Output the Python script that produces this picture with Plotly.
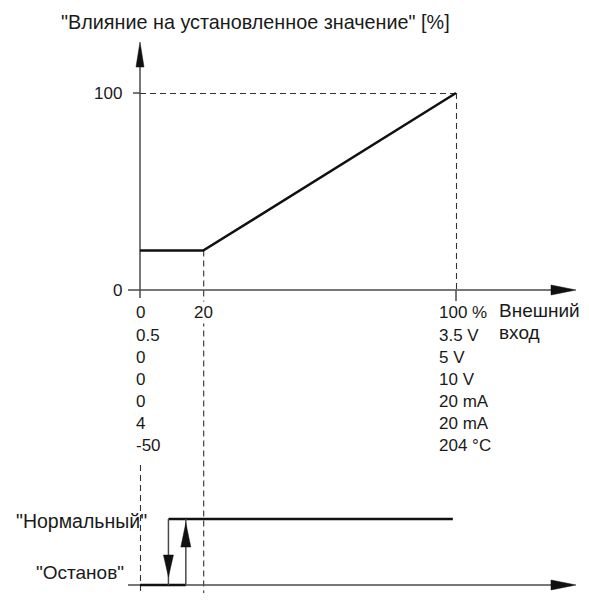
import plotly.graph_objects as go

# ---------------- data ----------------
influence_x = [0, 20, 100]          # external input [%]
influence_y = [20, 20, 100]         # influence on set value [%]

stop_level_x = [0, 14.5]            # "Останов" segment (state 0)
normal_level_x = [9, 99]            # "Нормальный" segment (state 1)
switch_down_x = 9                   # transition normal -> stop
switch_up_x = 14.5                  # transition stop -> normal

x_ticks = [0, 20, 100]
y_ticks = [0, 100]
col_zero_labels = ["0", "0.5", "0", "0", "0", "4", "-50"]
col_full_labels = ["100 %", "3.5 V", "5 V", "10 V", "20 mA", "20 mA", "204 °C"]
axis_title_x = ["Внешний", "вход"]
title_y = "\"Влияние на установленное значение\" [%]"
state_labels = ["\"Нормальный\"", "\"Останов\""]

# ---------------- geometry ----------------
W, H = 589, 600
X0_PX, X_SCALE = 140, 3.16
Y0_PX, Y_SCALE = 290, 1.97
S0_PX, S_SCALE = 585, 66

def px(x):
    return X0_PX + X_SCALE * x

def py(y):
    return Y0_PX - Y_SCALE * y

def ps(s):
    return S0_PX - S_SCALE * s

def fx(p):
    return p / W

def fy(p):
    return 1 - p / H

AX = "#4a4a4a"
DASH = "#333333"
INK = "#111111"
TXT = "#1a1a1a"
FAM = "Liberation Sans, Arial, sans-serif"

def font(size):
    return dict(family=FAM, size=size, color=TXT)

fig = go.Figure()

# main characteristic
fig.add_trace(go.Scatter(x=influence_x, y=influence_y, mode="lines",
                         line=dict(color=INK, width=2.5), yaxis="y",
                         hoverinfo="skip", showlegend=False))
# state lines
fig.add_trace(go.Scatter(x=stop_level_x, y=[0, 0], mode="lines",
                         line=dict(color=INK, width=2.5), yaxis="y2",
                         hoverinfo="skip", showlegend=False))
fig.add_trace(go.Scatter(x=normal_level_x, y=[1, 1], mode="lines",
                         line=dict(color=INK, width=2.5), yaxis="y2",
                         hoverinfo="skip", showlegend=False))
fig.add_trace(go.Scatter(x=[switch_down_x, switch_down_x], y=[1, 0], mode="lines",
                         line=dict(color=AX, width=1.5), yaxis="y2",
                         hoverinfo="skip", showlegend=False))
fig.add_trace(go.Scatter(x=[switch_up_x, switch_up_x], y=[0, 1], mode="lines",
                         line=dict(color=AX, width=1.5), yaxis="y2",
                         hoverinfo="skip", showlegend=False))

shapes = []

def seg(x0, y0, x1, y1, color=AX, width=1.5, dash=None):
    line = dict(color=color, width=width)
    if dash:
        line["dash"] = dash
    shapes.append(dict(type="line", xref="paper", yref="paper",
                       x0=fx(x0), y0=fy(y0), x1=fx(x1), y1=fy(y1), line=line,
                       layer="below"))

def tri(pts, color=INK):
    path = "M " + " L ".join(f"{fx(a):.5f},{fy(b):.5f}" for a, b in pts) + " Z"
    shapes.append(dict(type="path", xref="paper", yref="paper", path=path,
                       fillcolor=color, line=dict(color=color, width=0.5)))

# top diagram axes
seg(px(0), py(0) + 8, px(0), 66)
tri([(px(0), 42), (px(0) - 4, 67), (px(0) + 4, 67)])
seg(128, py(0), 552, py(0))
tri([(576, py(0)), (551, py(0) - 5), (551, py(0) + 5)])
seg(px(100), py(0), px(100), py(0) + 11)
seg(px(0) - 7, py(100), px(0), py(100))

# dashed guides (half-pixel offset for crisp 1px lines)
h = 0.5
seg(px(0), py(100) + h, px(100), py(100) + h, DASH, 1.1, "6px,4px")
seg(px(100) + h, py(100), px(100) + h, py(0), DASH, 1.1, "6px,4px")
seg(px(20) + h, py(influence_y[1]), px(20) + h, 593, DASH, 1.1, "6px,4px")
seg(px(0) + h, 465, px(0) + h, 593, DASH, 1.1, "6px,4px")

# bottom diagram axis
seg(128, ps(0), 552, ps(0))
tri([(576, ps(0)), (551, ps(0) - 5), (551, ps(0) + 5)])

# transition arrowheads
tri([(px(switch_down_x), ps(0) - 8), (px(switch_down_x) - 5, ps(0) - 30),
     (px(switch_down_x) + 5, ps(0) - 30)])
tri([(px(switch_up_x), ps(1) + 4), (px(switch_up_x) - 5, ps(1) + 28),
     (px(switch_up_x) + 5, ps(1) + 28)])

annotations = []

def text(t, x, y, xanchor="left", size=17, bg=None):
    a = dict(text=t, xref="paper", yref="paper", x=fx(x), y=fy(y),
             xanchor=xanchor, yanchor="middle", showarrow=False,
             font=font(size))
    if bg:
        a["bgcolor"] = bg
    annotations.append(a)

text(title_y, 59, 22, size=19.8)
for v in y_ticks:
    text(str(v), 124, py(v), "right")
for i, lab in enumerate(col_zero_labels):
    text(lab, px(0) - 6, 313 + 22 * i)
text(str(x_ticks[1]), px(x_ticks[1]), 313, "center", bg="white")
for i, lab in enumerate(col_full_labels):
    text(lab, px(100) - 19, 313 + 22 * i)
for i, lab in enumerate(axis_title_x):
    text(lab, 497, 310 + 22 * i, size=19)
text(state_labels[0], 149, ps(1) + 2, "right", size=19.5)
text(state_labels[1], 126, ps(0) - 13, "right", size=19)

fig.update_layout(
    width=W, height=H,
    margin=dict(l=0, r=0, t=0, b=0),
    paper_bgcolor="white", plot_bgcolor="white",
    xaxis=dict(range=[(0 - X0_PX) / X_SCALE, (W - X0_PX) / X_SCALE],
               visible=False, fixedrange=True),
    yaxis=dict(range=[(Y0_PX - H) / Y_SCALE, Y0_PX / Y_SCALE],
               visible=False, fixedrange=True),
    yaxis2=dict(range=[(S0_PX - H) / S_SCALE, S0_PX / S_SCALE],
                visible=False, overlaying="y", fixedrange=True),
    shapes=shapes,
    annotations=annotations,
    showlegend=False,
)

fig.write_html("out.html", config={"displayModeBar": False},
               post_script="document.body.style.margin='0';")
